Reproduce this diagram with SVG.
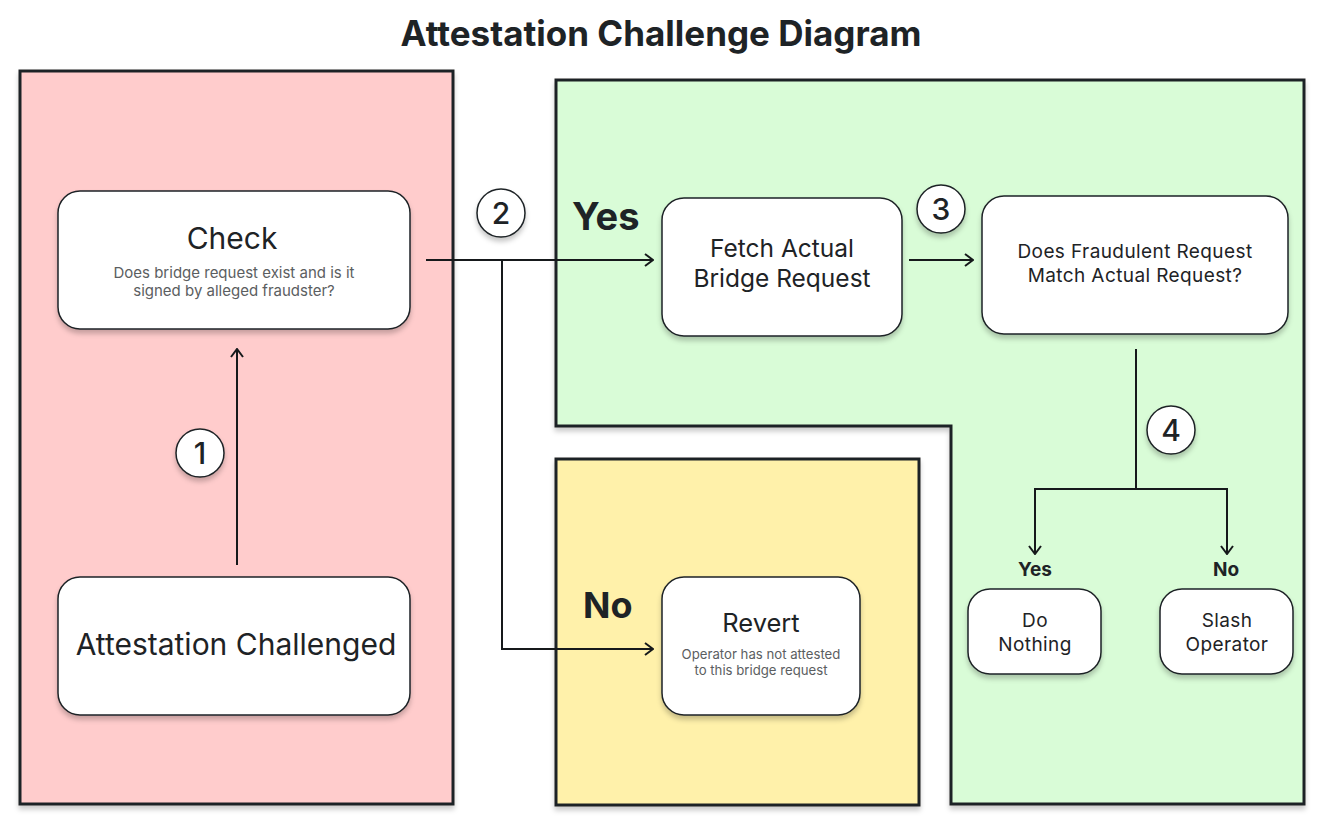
<svg xmlns="http://www.w3.org/2000/svg" width="1334" height="838" viewBox="0 0 1334 838">
<style>
  text { font-family: Inter, "Liberation Sans", sans-serif; fill: #1e2326; }
  .panel { stroke: #1e2326; stroke-width: 3; filter: url(#pshadow); }
  .node { fill: #ffffff; stroke: #1e2326; stroke-width: 1.5; filter: url(#nshadow); }
  .badge { fill: #ffffff; stroke: #1e2326; stroke-width: 1.5; filter: url(#nshadow); }
  .conn { fill: none; stroke: #16191b; stroke-width: 2; }
  .title { font-size: 35px; font-weight: 700; }
  .big { font-size: 24.5px; text-anchor: middle; }
  .mid { font-size: 19px; letter-spacing: 0.4px; text-anchor: middle; }
  .sub { font-size: 15px; fill: #5b5e61; text-anchor: middle; }
  .num { font-size: 30px; font-weight: 500; text-anchor: middle; }
  .lab { font-size: 38px; font-weight: 700; }
  .slab { font-size: 19px; font-weight: 700; text-anchor: middle; }
</style>
<defs>
  <filter id="nshadow" x="-20%" y="-20%" width="140%" height="150%">
    <feDropShadow dx="0" dy="4" stdDeviation="2.5" flood-color="#000" flood-opacity="0.22"/>
  </filter>
  <filter id="pshadow" x="-5%" y="-5%" width="110%" height="110%">
    <feDropShadow dx="0" dy="4" stdDeviation="2.5" flood-color="#000" flood-opacity="0.2"/>
  </filter>
  <marker id="arrow" viewBox="0 0 12 14" refX="11" refY="7" markerWidth="12" markerHeight="14" markerUnits="userSpaceOnUse" orient="auto">
    <path d="M3,1 L11,7 L3,13" fill="none" stroke="#16191b" stroke-width="2"/>
  </marker>
</defs>

<rect width="1334" height="838" fill="#ffffff"/>

<text class="title" x="661" y="46" text-anchor="middle">Attestation Challenge Diagram</text>

<g id="panel-red">
  <rect class="panel" x="20" y="71" width="433" height="733" fill="#ffcccc"/>
</g>
<g id="panel-green">
  <path class="panel" d="M556,80 H1304 V804 H951 V426 H556 Z" fill="#d9fcd7"/>
</g>
<g id="panel-yellow">
  <rect class="panel" x="556" y="459" width="363" height="346" fill="#fff1aa"/>
</g>

<g id="connectors">
  <line class="conn" x1="237" y1="565" x2="237" y2="349" marker-end="url(#arrow)"/>
  <line class="conn" x1="426" y1="260" x2="653" y2="260" marker-end="url(#arrow)"/>
  <polyline class="conn" points="502,260 502,649 653,649" marker-end="url(#arrow)"/>
  <line class="conn" x1="909" y1="260" x2="973" y2="260" marker-end="url(#arrow)"/>
  <polyline class="conn" points="1136,349 1136,489"/>
  <polyline class="conn" points="1136,489 1035,489 1035,554" marker-end="url(#arrow)"/>
  <polyline class="conn" points="1136,489 1227,489 1227,554" marker-end="url(#arrow)"/>
</g>

<g id="node-check">
  <rect class="node" x="58" y="191" width="352" height="138" rx="22"/>
  <text class="big" x="232" y="249" style="font-size:30px">Check</text>
  <text class="sub" x="234" y="278">Does bridge request exist and is it</text>
  <text class="sub" x="234" y="296">signed by alleged fraudster?</text>
</g>

<g id="node-attestation">
  <rect class="node" x="58" y="577" width="352" height="138" rx="22"/>
  <text class="big" x="236" y="655" style="font-size:30px">Attestation Challenged</text>
</g>

<g id="node-fetch">
  <rect class="node" x="662" y="198" width="240" height="138" rx="22"/>
  <text class="big" x="782" y="257">Fetch Actual</text>
  <text class="big" x="782" y="287">Bridge Request</text>
</g>

<g id="node-match">
  <rect class="node" x="982" y="196" width="306" height="138" rx="22"/>
  <text class="mid" x="1135" y="258">Does Fraudulent Request</text>
  <text class="mid" x="1135" y="282">Match Actual Request?</text>
</g>

<g id="node-revert">
  <rect class="node" x="662" y="577" width="198" height="138" rx="22"/>
  <text class="big" x="761" y="632" style="font-size:25.5px">Revert</text>
  <text class="sub" x="761" y="659" style="font-size:13.2px">Operator has not attested</text>
  <text class="sub" x="761" y="675" style="font-size:13.2px">to this bridge request</text>
</g>

<g id="node-donothing">
  <rect class="node" x="968" y="589" width="133" height="85" rx="22"/>
  <text class="mid" x="1035" y="627">Do</text>
  <text class="mid" x="1035" y="651">Nothing</text>
</g>

<g id="node-slash">
  <rect class="node" x="1160" y="589" width="133" height="85" rx="22"/>
  <text class="mid" x="1227" y="627">Slash</text>
  <text class="mid" x="1227" y="651">Operator</text>
</g>

<g id="badge-1">
  <circle class="badge" cx="200" cy="453" r="24"/>
  <text class="num" x="200" y="464">1</text>
</g>
<g id="badge-2">
  <circle class="badge" cx="501" cy="213" r="24"/>
  <text class="num" x="501" y="224">2</text>
</g>
<g id="badge-3">
  <circle class="badge" cx="941" cy="209" r="24"/>
  <text class="num" x="941" y="220">3</text>
</g>
<g id="badge-4">
  <circle class="badge" cx="1171" cy="430" r="24"/>
  <text class="num" x="1171" y="441">4</text>
</g>

<g id="labels">
  <text class="lab" x="572" y="230">Yes</text>
  <text class="lab" x="583" y="618" style="font-size:36px">No</text>
  <text class="slab" x="1035" y="576">Yes</text>
  <text class="slab" x="1226" y="576">No</text>
</g>
</svg>
